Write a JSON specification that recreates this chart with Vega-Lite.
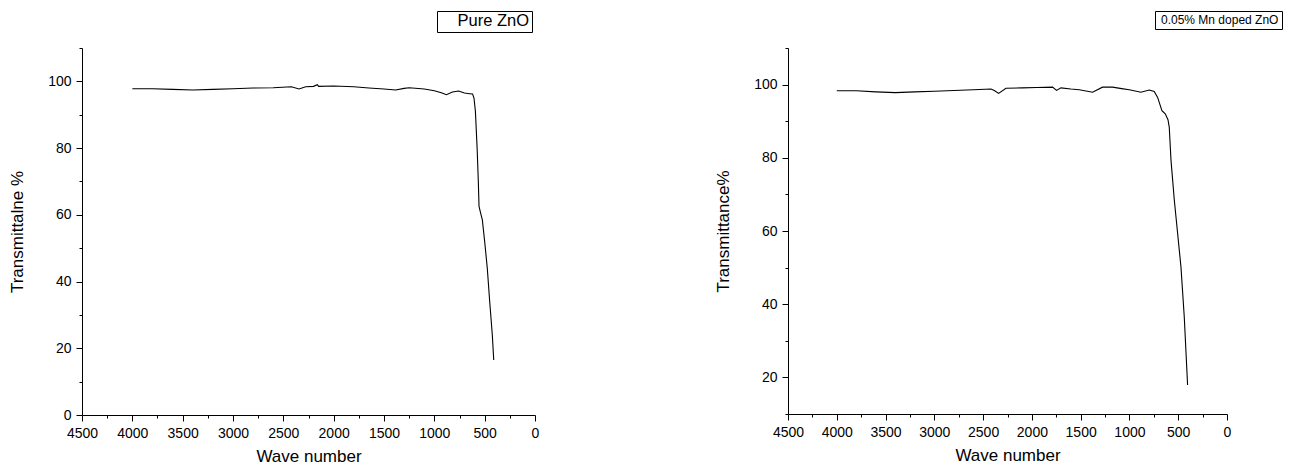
{
  "$schema": "https://vega.github.io/schema/vega-lite/v6.json",
  "background": "white",
  "padding": {"left": 8, "top": 10, "right": 0, "bottom": 0},
  "spacing": 175,
  "config": {
    "view": {"stroke": null},
    "font": "Liberation Sans",
    "axis": {
      "domainColor": "black", "tickColor": "black", "labelColor": "black", "titleColor": "black",
      "labelFont": "Liberation Sans", "titleFont": "Liberation Sans",
      "labelFontSize": 14, "titleFontSize": 17, "titleFontWeight": "normal",
      "grid": false, "labelPadding": 5, "tickSize": 6, "labelOverlap": false, "labelFlush": false
    },
    "legend": {"labelColor": "black", "labelFont": "Liberation Sans", "labelLimit": 300}
  },
  "datasets": {
    "pure": [
      {"wn": 4000, "t": 97.8, "series": "Pure ZnO"},
      {"wn": 3800, "t": 97.8, "series": "Pure ZnO"},
      {"wn": 3600, "t": 97.6, "series": "Pure ZnO"},
      {"wn": 3400, "t": 97.4, "series": "Pure ZnO"},
      {"wn": 3200, "t": 97.6, "series": "Pure ZnO"},
      {"wn": 3000, "t": 97.8, "series": "Pure ZnO"},
      {"wn": 2800, "t": 98.0, "series": "Pure ZnO"},
      {"wn": 2600, "t": 98.1, "series": "Pure ZnO"},
      {"wn": 2420, "t": 98.4, "series": "Pure ZnO"},
      {"wn": 2344, "t": 97.7, "series": "Pure ZnO"},
      {"wn": 2278, "t": 98.4, "series": "Pure ZnO"},
      {"wn": 2200, "t": 98.5, "series": "Pure ZnO"},
      {"wn": 2162, "t": 99.0, "series": "Pure ZnO"},
      {"wn": 2150, "t": 98.5, "series": "Pure ZnO"},
      {"wn": 2000, "t": 98.6, "series": "Pure ZnO"},
      {"wn": 1800, "t": 98.4, "series": "Pure ZnO"},
      {"wn": 1650, "t": 98.0, "series": "Pure ZnO"},
      {"wn": 1500, "t": 97.7, "series": "Pure ZnO"},
      {"wn": 1384, "t": 97.4, "series": "Pure ZnO"},
      {"wn": 1300, "t": 97.9, "series": "Pure ZnO"},
      {"wn": 1250, "t": 98.1, "series": "Pure ZnO"},
      {"wn": 1100, "t": 97.7, "series": "Pure ZnO"},
      {"wn": 1000, "t": 97.2, "series": "Pure ZnO"},
      {"wn": 930, "t": 96.6, "series": "Pure ZnO"},
      {"wn": 880, "t": 96.0, "series": "Pure ZnO"},
      {"wn": 820, "t": 96.8, "series": "Pure ZnO"},
      {"wn": 760, "t": 97.1, "series": "Pure ZnO"},
      {"wn": 700, "t": 96.5, "series": "Pure ZnO"},
      {"wn": 650, "t": 96.3, "series": "Pure ZnO"},
      {"wn": 620, "t": 96.2, "series": "Pure ZnO"},
      {"wn": 606, "t": 95.0, "series": "Pure ZnO"},
      {"wn": 592, "t": 91.0, "series": "Pure ZnO"},
      {"wn": 575, "t": 80.0, "series": "Pure ZnO"},
      {"wn": 563, "t": 70.0, "series": "Pure ZnO"},
      {"wn": 556, "t": 62.5, "series": "Pure ZnO"},
      {"wn": 540, "t": 60.5, "series": "Pure ZnO"},
      {"wn": 523, "t": 58.5, "series": "Pure ZnO"},
      {"wn": 500, "t": 52.0, "series": "Pure ZnO"},
      {"wn": 474, "t": 44.0, "series": "Pure ZnO"},
      {"wn": 450, "t": 34.0, "series": "Pure ZnO"},
      {"wn": 424, "t": 24.0, "series": "Pure ZnO"},
      {"wn": 410, "t": 16.5, "series": "Pure ZnO"}
    ],
    "mn": [
      {"wn": 4000, "t": 98.3, "series": "0.05% Mn doped ZnO"},
      {"wn": 3800, "t": 98.3, "series": "0.05% Mn doped ZnO"},
      {"wn": 3600, "t": 98.0, "series": "0.05% Mn doped ZnO"},
      {"wn": 3400, "t": 97.8, "series": "0.05% Mn doped ZnO"},
      {"wn": 3200, "t": 98.0, "series": "0.05% Mn doped ZnO"},
      {"wn": 3000, "t": 98.2, "series": "0.05% Mn doped ZnO"},
      {"wn": 2800, "t": 98.4, "series": "0.05% Mn doped ZnO"},
      {"wn": 2600, "t": 98.6, "series": "0.05% Mn doped ZnO"},
      {"wn": 2420, "t": 98.8, "series": "0.05% Mn doped ZnO"},
      {"wn": 2385, "t": 98.4, "series": "0.05% Mn doped ZnO"},
      {"wn": 2341, "t": 97.6, "series": "0.05% Mn doped ZnO"},
      {"wn": 2266, "t": 99.0, "series": "0.05% Mn doped ZnO"},
      {"wn": 2100, "t": 99.1, "series": "0.05% Mn doped ZnO"},
      {"wn": 1950, "t": 99.2, "series": "0.05% Mn doped ZnO"},
      {"wn": 1788, "t": 99.3, "series": "0.05% Mn doped ZnO"},
      {"wn": 1747, "t": 98.4, "series": "0.05% Mn doped ZnO"},
      {"wn": 1702, "t": 99.1, "series": "0.05% Mn doped ZnO"},
      {"wn": 1600, "t": 98.8, "series": "0.05% Mn doped ZnO"},
      {"wn": 1514, "t": 98.6, "series": "0.05% Mn doped ZnO"},
      {"wn": 1378, "t": 97.9, "series": "0.05% Mn doped ZnO"},
      {"wn": 1276, "t": 99.3, "series": "0.05% Mn doped ZnO"},
      {"wn": 1173, "t": 99.3, "series": "0.05% Mn doped ZnO"},
      {"wn": 1080, "t": 98.9, "series": "0.05% Mn doped ZnO"},
      {"wn": 1002, "t": 98.6, "series": "0.05% Mn doped ZnO"},
      {"wn": 882, "t": 97.9, "series": "0.05% Mn doped ZnO"},
      {"wn": 797, "t": 98.5, "series": "0.05% Mn doped ZnO"},
      {"wn": 746, "t": 98.1, "series": "0.05% Mn doped ZnO"},
      {"wn": 711, "t": 96.5, "series": "0.05% Mn doped ZnO"},
      {"wn": 667, "t": 92.9, "series": "0.05% Mn doped ZnO"},
      {"wn": 633, "t": 92.0, "series": "0.05% Mn doped ZnO"},
      {"wn": 605, "t": 90.4, "series": "0.05% Mn doped ZnO"},
      {"wn": 592, "t": 88.4, "series": "0.05% Mn doped ZnO"},
      {"wn": 574, "t": 79.3, "series": "0.05% Mn doped ZnO"},
      {"wn": 540, "t": 68.4, "series": "0.05% Mn doped ZnO"},
      {"wn": 506, "t": 59.3, "series": "0.05% Mn doped ZnO"},
      {"wn": 472, "t": 50.2, "series": "0.05% Mn doped ZnO"},
      {"wn": 438, "t": 36.5, "series": "0.05% Mn doped ZnO"},
      {"wn": 404, "t": 17.9, "series": "0.05% Mn doped ZnO"}
    ]
  },
  "hconcat": [
    {
      "width": 453,
      "height": 367,
      "data": {"name": "pure"},
      "mark": {"type": "line", "strokeWidth": 1.1},
      "encoding": {
        "x": {
          "field": "wn", "type": "quantitative",
          "scale": {"domain": [0, 4500], "reverse": true, "nice": false, "zero": false},
          "axis": {
            "title": "Wave number", "format": "d", "titlePadding": 8,
            "values": [0, 250, 500, 750, 1000, 1250, 1500, 1750, 2000, 2250, 2500, 2750, 3000, 3250, 3500, 3750, 4000, 4250, 4500],
            "labelExpr": "datum.value % 500 === 0 ? datum.label : ''",
            "tickSize": {"condition": {"test": "datum.value % 500 !== 0", "value": 3}, "value": 6}
          }
        },
        "y": {
          "field": "t", "type": "quantitative",
          "scale": {"domain": [0, 110], "nice": false, "zero": false},
          "axis": {
            "title": "Transmittalne %", "titlePadding": 21,
            "values": [0, 10, 20, 30, 40, 50, 60, 70, 80, 90, 100, 110],
            "labelExpr": "datum.value % 20 === 0 ? datum.label : ''",
            "tickSize": {"condition": {"test": "datum.value % 20 !== 0", "value": 3}, "value": 6}
          }
        },
        "color": {
          "field": "series", "type": "nominal",
          "scale": {"range": ["black"]},
          "legend": {
            "title": null, "orient": "none", "legendX": 355, "legendY": -37,
            "symbolType": "stroke", "symbolSize": 144, "symbolOpacity": 0,
            "labelOffset": 2, "labelFontSize": 16.5, "padding": 2, "strokeColor": "black"
          }
        }
      }
    },
    {
      "width": 439,
      "height": 366,
      "data": {"name": "mn"},
      "mark": {"type": "line", "strokeWidth": 1.1},
      "encoding": {
        "x": {
          "field": "wn", "type": "quantitative",
          "scale": {"domain": [0, 4500], "reverse": true, "nice": false, "zero": false},
          "axis": {
            "title": "Wave number", "format": "d", "titlePadding": 8,
            "values": [0, 250, 500, 750, 1000, 1250, 1500, 1750, 2000, 2250, 2500, 2750, 3000, 3250, 3500, 3750, 4000, 4250, 4500],
            "labelExpr": "datum.value % 500 === 0 ? datum.label : ''",
            "tickSize": {"condition": {"test": "datum.value % 500 !== 0", "value": 3}, "value": 6}
          }
        },
        "y": {
          "field": "t", "type": "quantitative",
          "scale": {"domain": [10, 110], "nice": false, "zero": false},
          "axis": {
            "title": "Transmittance%", "titlePadding": 21,
            "values": [10, 20, 30, 40, 50, 60, 70, 80, 90, 100, 110],
            "labelExpr": "datum.value % 20 === 0 ? datum.label : ''",
            "tickSize": {"condition": {"test": "datum.value % 20 !== 0", "value": 3}, "value": 6}
          }
        },
        "color": {
          "field": "series", "type": "nominal",
          "scale": {"range": ["black"]},
          "legend": {
            "title": null, "orient": "none", "legendX": 367, "legendY": -37,
            "symbolType": "square", "symbolSize": 0.01, "symbolOpacity": 0, "symbolStrokeWidth": 0,
            "labelOffset": -9, "labelFontSize": 12, "labelFont": "Liberation Sans",
            "padding": 3, "strokeColor": "black"
          }
        }
      }
    }
  ],
  "resolve": {"scale": {"color": "independent"}, "legend": {"color": "independent"}}
}
